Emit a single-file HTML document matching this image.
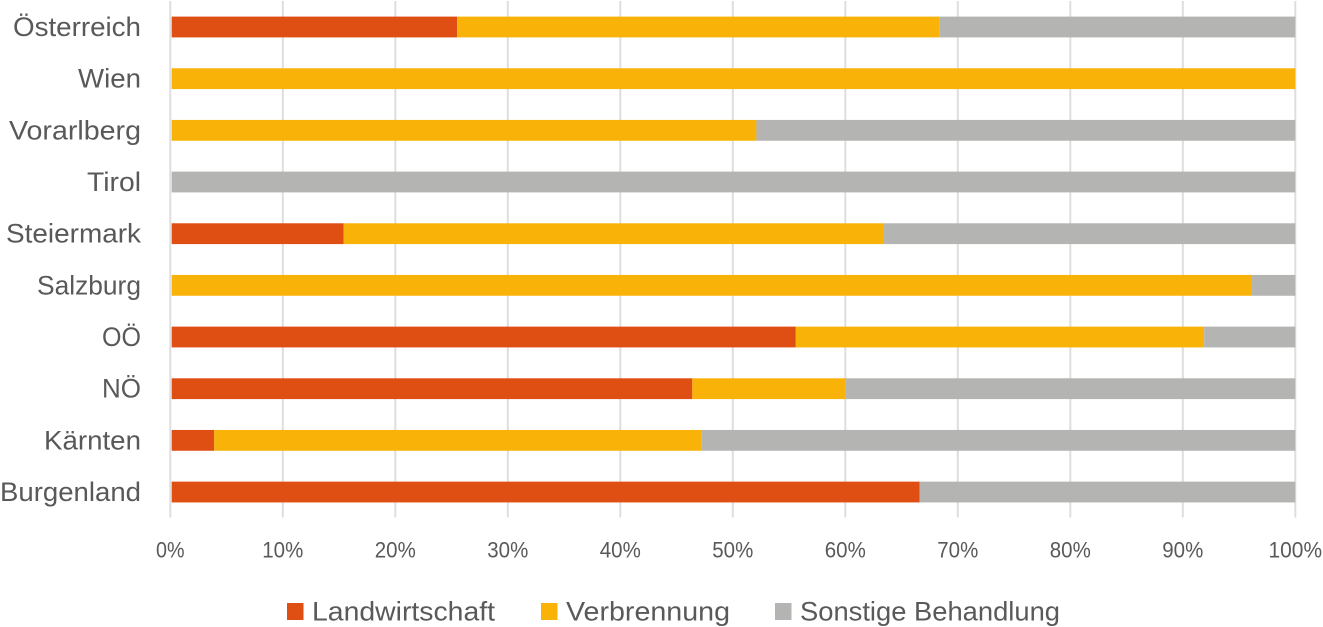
<!DOCTYPE html>
<html lang="de">
<head>
<meta charset="utf-8">
<title>Behandlung nach Bundesland</title>
<style>
html,body{margin:0;padding:0;background:#fff;width:1323px;height:627px;overflow:hidden}
svg{display:block}
text{font-family:"Liberation Sans",sans-serif;fill:#595959}
</style>
</head>
<body>
<svg id="chart" xmlns="http://www.w3.org/2000/svg" width="1323" height="627" viewBox="0 0 1323 627"></svg>
<script>
const categories = ["Österreich","Wien","Vorarlberg","Tirol","Steiermark","Salzburg","OÖ","NÖ","Kärnten","Burgenland"];
const landwirtschaft = [25.5,0,0,0,15.4,0,55.6,46.4,3.9,66.6];
const verbrennung = [42.9,100,52.1,0,48,96.1,36.3,13.6,43.3,0];
const sonstige = [31.6,0,47.9,100,36.6,3.9,8.1,40,52.8,33.4];
const tickValues = [0,10,20,30,40,50,60,70,80,90,100];
const seriesNames = ["Landwirtschaft","Verbrennung","Sonstige Behandlung"];

const NS = "http://www.w3.org/2000/svg";
const svg = document.getElementById("chart");
const colors = ["#DF4E12","#F9B208","#B4B4B2"];
const allSeries = [landwirtschaft, verbrennung, sonstige];
const xScale = v => 170.3 + v * 1125 / 100;
const bandY = i => 27 + i * 51.67;
const barH = 20.8;
const categoryWidths = [128,63,132,54,135,104,39,39,97,141];
const tickWidth = t => t < 10 ? 28.5 : (t < 100 ? 41 : 53.5);

function make(tag, attrs, parent) {
  const el = document.createElementNS(NS, tag);
  for (const k in attrs) el.setAttribute(k, attrs[k]);
  (parent || svg).appendChild(el);
  return el;
}

tickValues.forEach(t => {
  const line = make("line", {x1:xScale(t), x2:xScale(t), y1:1, y2:517.5, stroke:"#DEDEDE", "stroke-width":2});
  
  
  const label = make("text", {x:xScale(t), y:557.5, "text-anchor":"middle", "font-size":22, textLength:tickWidth(t), lengthAdjust:"spacingAndGlyphs"});
  label.textContent = t + "%";
  
  
});

categories.forEach((c, i) => {
  const label = make("text", {x:141, y:bandY(i) + 9, "text-anchor":"end", "font-size":27, textLength:categoryWidths[i], lengthAdjust:"spacingAndGlyphs"});
  label.textContent = c;
  
  
  let cum = 0;
  allSeries.forEach((s, j) => {
    const v = s[i];
    if (v > 0) {
      const inset = cum === 0 ? 1.4 : 0;
      const bar = make("rect", {x:xScale(cum) + inset, y:bandY(i) - barH / 2, width:xScale(cum + v) - xScale(cum) - inset, height:barH, fill:colors[j]});
      
      
    }
    cum += v;
  });
});

const legendLayout = [[287,312,183],[541,566,164],[775,800,260]];
seriesNames.forEach((n, j) => {
  const sw = make("rect", {x:legendLayout[j][0], y:603, width:16.5, height:17, fill:colors[j]});
  
  
  const label = make("text", {x:legendLayout[j][1], y:620.5, "font-size":27, textLength:legendLayout[j][2], lengthAdjust:"spacingAndGlyphs"});
  label.textContent = n;
  
  
});
</script>
</body>
</html>
